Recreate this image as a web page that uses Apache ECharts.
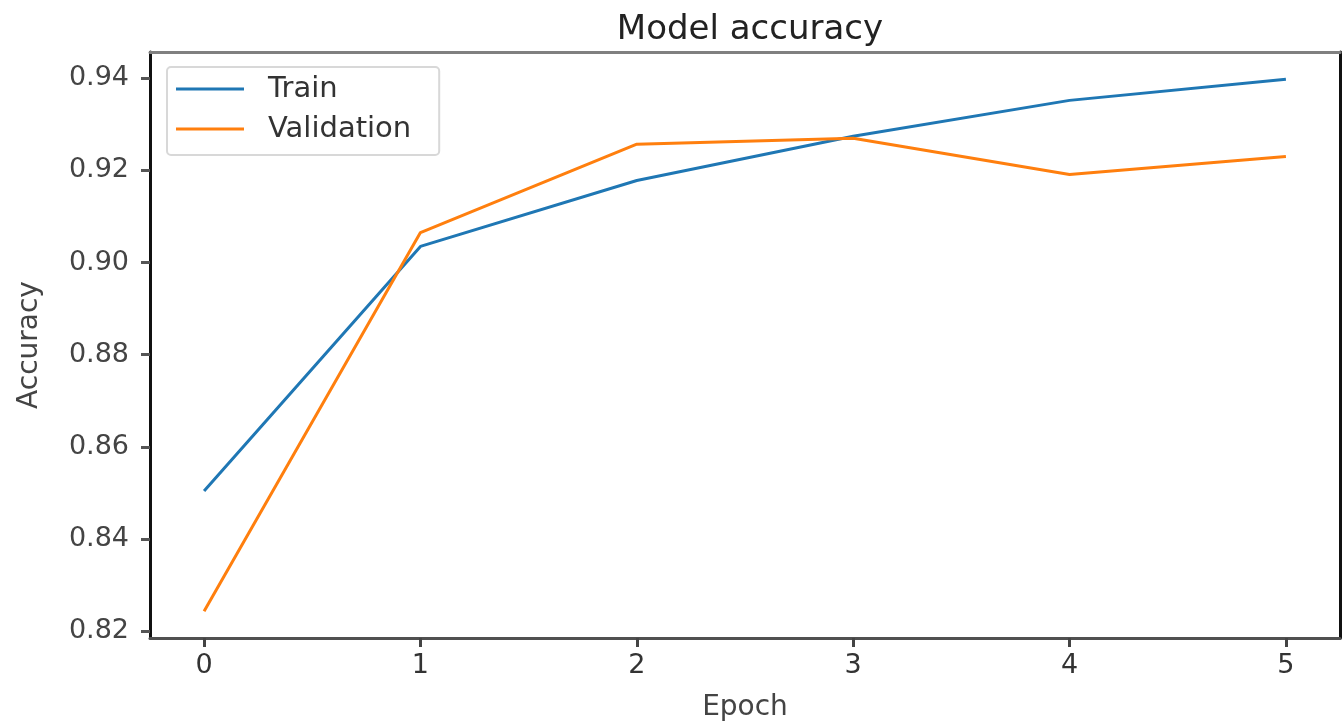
<!DOCTYPE html>
<html>
<head>
<meta charset="utf-8">
<script src="https://cdn.jsdelivr.net/npm/echarts@6/dist/echarts.min.js"></script>
<style>
  html, body { margin: 0; padding: 0; background: #fff; }
  #chart { width: 1343px; height: 722px; }
</style>
</head>
<body>
<div id="chart"></div>
<script>
const epochs = [0, 1, 2, 3, 4, 5];
const trainAcc = [0.8504, 0.9035, 0.9178, 0.9274, 0.9352, 0.9398];
const valAcc = [0.8243, 0.9065, 0.9257, 0.9270, 0.9191, 0.9230];
const yTicks = [0.82, 0.84, 0.86, 0.88, 0.90, 0.92, 0.94];

const font = 'DejaVu Sans';
const chart = echarts.init(document.getElementById('chart'));

chart.setOption({
  animation: false,
  textStyle: { fontFamily: font },
  title: {
    text: 'Model accuracy',
    left: 745,
    top: 8,
    textAlign: 'center',
    textStyle: { fontFamily: font, fontSize: 34, fontWeight: 'normal', color: '#222' }
  },
  legend: {
    orient: 'vertical',
    left: 167,
    top: 67,
    padding: [7, 28, 11, 9],
    itemGap: 10,
    itemWidth: 68,
    itemHeight: 3,
    icon: 'rect',
    borderColor: '#d8d8d8',
    borderWidth: 2,
    borderRadius: 4,
    backgroundColor: 'rgba(255,255,255,0.8)',
    textStyle: { fontFamily: font, fontSize: 29, color: '#333', lineHeight: 30, padding: [0, 0, 0, 19] },
    data: ['Train', 'Validation']
  },
  grid: { left: 150, right: 3, top: 52, bottom: 84, containLabel: false, outerBoundsMode: 'none' },
  xAxis: [{
    type: 'value',
    min: -0.25,
    max: 5.25,
    name: 'Epoch',
    nameLocation: 'middle',
    nameGap: 56,
    nameTextStyle: { fontFamily: font, fontSize: 28, color: '#444' },
    axisLine: { show: true, onZero: false, lineStyle: { color: '#505050', width: 3 } },
    axisTick: { show: true, length: 9, customValues: epochs, lineStyle: { color: '#444', width: 3 } },
    axisLabel: { customValues: epochs, fontFamily: font, fontSize: 27, color: '#333', margin: 14 },
    splitLine: { show: false }
  }, {
    type: 'value',
    position: 'top',
    min: -0.25,
    max: 5.25,
    axisLine: { show: true, onZero: false, lineStyle: { color: '#808080', width: 3 } },
    axisTick: { show: false },
    axisLabel: { show: false },
    splitLine: { show: false }
  }],
  yAxis: [{
    type: 'value',
    min: 0.8185,
    max: 0.9457,
    name: 'Accuracy',
    nameLocation: 'middle',
    nameGap: 106,
    nameTextStyle: { fontFamily: font, fontSize: 28, color: '#444' },
    axisLine: { show: true, onZero: false, lineStyle: { color: '#111', width: 3 } },
    axisTick: { show: true, length: 9, customValues: yTicks, lineStyle: { color: '#555', width: 3 } },
    axisLabel: {
      customValues: yTicks,
      fontFamily: font, fontSize: 27, color: '#444', margin: 21,
      formatter: v => v.toFixed(2)
    },
    splitLine: { show: false }
  }, {
    type: 'value',
    position: 'right',
    min: 0.8185,
    max: 0.9457,
    axisLine: { show: true, onZero: false, lineStyle: { color: '#111', width: 3 } },
    axisTick: { show: false },
    axisLabel: { show: false },
    splitLine: { show: false }
  }],
  series: [{
    name: 'Train',
    type: 'line',
    symbol: 'none',
    color: '#1f77b4',
    lineStyle: { width: 3 },
    data: epochs.map((e, i) => [e, trainAcc[i]])
  }, {
    name: 'Validation',
    type: 'line',
    symbol: 'none',
    color: '#ff7f0e',
    lineStyle: { width: 3 },
    data: epochs.map((e, i) => [e, valAcc[i]])
  }]
});
</script>
</body>
</html>
